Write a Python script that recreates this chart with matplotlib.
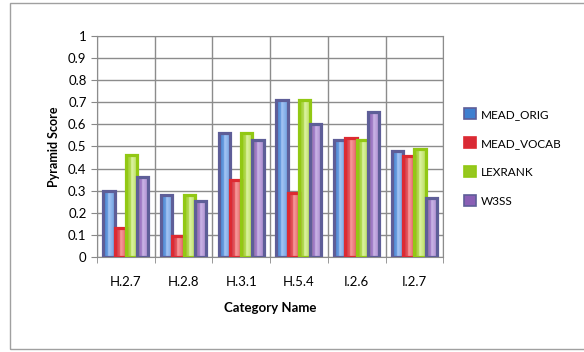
import numpy as np
import matplotlib
matplotlib.use("Agg")
import matplotlib.pyplot as plt
from matplotlib.patches import Rectangle
from matplotlib.colors import LinearSegmentedColormap

plt.rcParams['font.family'] = ['Lato', 'DejaVu Sans']

categories = ["H.2.7", "H.2.8", "H.3.1", "H.5.4", "I.2.6", "I.2.7"]
series_names = ["MEAD_ORIG", "MEAD_VOCAB", "LEXRANK", "W3SS"]
mead_orig = [0.30, 0.28, 0.56, 0.71, 0.53, 0.48]
mead_vocab = [0.13, 0.095, 0.35, 0.29, 0.54, 0.455]
lexrank = [0.46, 0.28, 0.56, 0.71, 0.53, 0.49]
w3ss = [0.36, 0.255, 0.53, 0.60, 0.655, 0.265]
y_ticks = [0, 0.1, 0.2, 0.3, 0.4, 0.5, 0.6, 0.7, 0.8, 0.9, 1]

# (dark, light) for the gradient, then edge colour
styles = [
    ("#3f7fd0", "#a9c8f5", "#5e5e98"),
    ("#d92a35", "#f7a0a0", "#dd2a32"),
    ("#96c81e", "#e0f5a8", "#92c814"),
    ("#8a5fb5", "#cdb8e8", "#5e5e98"),
]

fig = plt.figure(figsize=(5.84, 3.52), dpi=100)
ax = fig.add_axes([0.166, 0.27, 0.593, 0.628])

# frame around the whole chart
fig.add_artist(Rectangle((10 / 584, 3 / 352), 1.2, 346 / 352, transform=fig.transFigure,
                         fill=False, edgecolor="#a0a0a0", linewidth=1.0))

all_vals = [mead_orig, mead_vocab, lexrank, w3ss]
x = np.arange(len(categories))
bw = 0.195
grad = np.linspace(0, 1, 64).reshape(1, -1)
grad = np.concatenate([grad[:, :28], grad[:, 28:][:, ::-1][:, :36]], axis=1)
grad = grad / grad.max()
for i, vals in enumerate(all_vals):
    dark, light, edge = styles[i]
    cmap = LinearSegmentedColormap.from_list("g%d" % i, [dark, light])
    for j, v in enumerate(vals):
        x0 = x[j] + (i - 2) * bw
        img = ax.imshow(grad, cmap=cmap, vmin=0, vmax=1.0, aspect="auto",
                        extent=(x0, x0 + bw, 0, v), zorder=3, interpolation="bilinear")
        r = Rectangle((x0, 0), bw, v, facecolor="none", edgecolor=edge,
                      linewidth=2.3, zorder=4)
        ax.add_patch(r)
        img.set_clip_path(r)

ax.set_xlim(-0.5, len(categories) - 0.5)
ax.set_ylim(0, 1)
ax.set_yticks(y_ticks)
ax.set_yticklabels([("%g" % t) for t in y_ticks], fontsize=9.5)
ax.set_xticks(x)
ax.set_xticklabels(categories, fontsize=9.5)
ax.tick_params(axis="x", length=0, pad=14)
ax.set_xticks(np.arange(-0.5, len(categories)), minor=True)
ax.tick_params(axis="x", which="minor", length=4, color="#888888")
ax.tick_params(axis="y", length=4, color="#888888", direction="out")

ax.grid(True, axis="y", color="#8c8c8c", linewidth=1.0, zorder=0)
ax.grid(True, axis="x", which="minor", color="#8c8c8c", linewidth=1.0, zorder=0)
ax.set_axisbelow(True)
for s in ax.spines.values():
    s.set_color("#8c8c8c")

ax.set_xlabel("Category Name", fontsize=9.5, fontweight="bold", labelpad=10)
ax.set_ylabel("Pyramid Score", fontsize=9, fontweight="bold", labelpad=6)

handles = [Rectangle((0, 0), 1, 1, facecolor=s[0], edgecolor=s[2], linewidth=1.2) for s in styles]
ax.legend(handles, series_names, loc="center left", bbox_to_anchor=(1.03, 0.45),
          frameon=False, fontsize=8.5, handlelength=1.0, handleheight=1.0,
          labelspacing=1.5, handletextpad=0.4)

fig.savefig("out.png", dpi=100)
